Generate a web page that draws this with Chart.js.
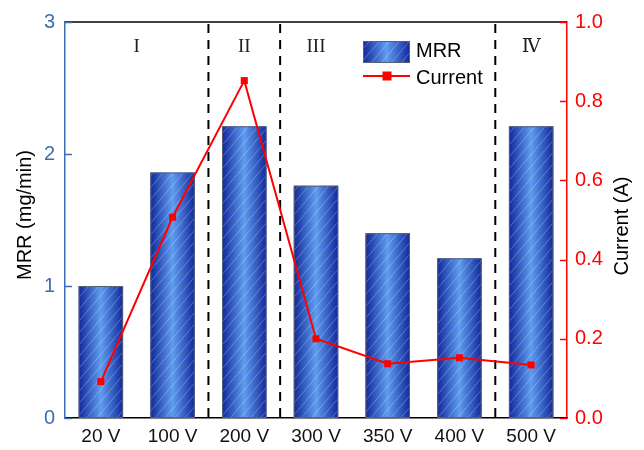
<!DOCTYPE html>
<html>
<head>
<meta charset="utf-8">
<script src="https://cdn.jsdelivr.net/npm/chart.js@4/dist/chart.umd.min.js"></script>
<style>
  html, body { margin: 0; padding: 0; background: #fff; }
  #wrap { width: 644px; height: 450px; }
</style>
</head>
<body>
<div id="wrap"><canvas id="chart" width="644" height="450"></canvas></div>
<script>
// values
var voltages = ["20 V", "100 V", "200 V", "300 V", "350 V", "400 V", "500 V"];
var mrr = [1.0, 1.86, 2.21, 1.76, 1.40, 1.21, 2.21];
var current = [0.092, 0.507, 0.852, 0.200, 0.137, 0.152, 0.134];
var regionLabels = ["I", "II", "III", "Ⅳ"];
var regionAt = [0.5, 2, 3, 6];      // category index the label sits over
var dividers = [1.5, 2.5, 5.5];     // dashed lines between categories
var leftTicks = [0, 1, 2, 3];
var rightTicks = [0, 0.2, 0.4, 0.6, 0.8, 1.0];

var blueAxis = "#3d6db5";
var redAxis = "#ff0000";

function fillBar(ctx, x0, y0, w, h) {
    var g = ctx.createLinearGradient(x0, 0, x0 + w, 0);
    g.addColorStop(0, "#10279a");
    g.addColorStop(0.5, "#5f9cf0");
    g.addColorStop(1, "#10279a");
    ctx.save();
    ctx.fillStyle = g;
    ctx.fillRect(x0, y0, w, h);
    ctx.beginPath();
    ctx.rect(x0, y0, w, h);
    ctx.clip();
    ctx.strokeStyle = "rgba(255,255,255,0.35)";
    ctx.lineWidth = 0.8;
    for (var k = -h; k < w + h; k += 10) {
        ctx.beginPath();
        ctx.moveTo(x0 + k, y0 + h);
        ctx.lineTo(x0 + k + h * 0.85, y0);
        ctx.stroke();
    }
    ctx.restore();
    ctx.save();
    ctx.strokeStyle = "#55607a";
    ctx.lineWidth = 1;
    ctx.strokeRect(x0 + 0.5, y0 + 0.5, w - 1, h - 1);
    ctx.restore();
}

var decor = {
    id: "decor",
    afterDatasetDraw: function (chart, args) {
        if (args.index !== 0) return;
        var ctx = chart.ctx;
        args.meta.data.forEach(function (bar) {
            var w = bar.width;
            fillBar(ctx, bar.x - w / 2, bar.y, w, bar.base - bar.y);
        });
    },
    beforeDatasetsDraw: function (chart) {
        var ctx = chart.ctx, a = chart.chartArea, x = chart.scales.x;
        // dashed region dividers
        ctx.save();
        ctx.strokeStyle = "#000";
        ctx.lineWidth = 2;
        ctx.setLineDash([9, 7]);
        dividers.forEach(function (d) {
            var px = (x.getPixelForValue(Math.floor(d)) + x.getPixelForValue(Math.ceil(d))) / 2;
            ctx.beginPath();
            ctx.moveTo(px, a.top + 2);
            ctx.lineTo(px, a.bottom);
            ctx.stroke();
        });
        ctx.restore();
        // region labels
        ctx.save();
        ctx.fillStyle = "#222";
        ctx.font = "19px 'Liberation Serif', 'DejaVu Serif'";
        ctx.textAlign = "center";
        ctx.textBaseline = "middle";
        regionLabels.forEach(function (t, i) {
            var r = regionAt[i];
            var px = (x.getPixelForValue(Math.floor(r)) + x.getPixelForValue(Math.ceil(r))) / 2;
            ctx.fillText(t, px, a.top + 25);
        });
        ctx.restore();
    },
    afterDraw: function (chart) {
        var ctx = chart.ctx, a = chart.chartArea;
        var yl = chart.scales.y, yr = chart.scales.y1;
        ctx.save();
        // top frame line
        ctx.strokeStyle = "#000";
        ctx.lineWidth = 1.5;
        ctx.beginPath();
        ctx.moveTo(a.left, a.top);
        ctx.lineTo(a.right, a.top);
        ctx.stroke();
        // inward ticks
        ctx.lineWidth = 1.5;
        ctx.strokeStyle = blueAxis;
        leftTicks.forEach(function (v) {
            var py = Math.round(yl.getPixelForValue(v)) + 0.5;
            ctx.beginPath();
            ctx.moveTo(a.left, py);
            ctx.lineTo(a.left + 7, py);
            ctx.stroke();
        });
        ctx.strokeStyle = redAxis;
        rightTicks.forEach(function (v) {
            var py = Math.round(yr.getPixelForValue(v)) + 0.5;
            ctx.beginPath();
            ctx.moveTo(a.right, py);
            ctx.lineTo(a.right - 7, py);
            ctx.stroke();
        });
        // axis titles
        ctx.fillStyle = "#000";
        ctx.font = "20px 'Liberation Sans'";
        ctx.textAlign = "center";
        ctx.textBaseline = "middle";
        ctx.save();
        ctx.translate(25, 215);
        ctx.rotate(-Math.PI / 2);
        ctx.fillText("MRR (mg/min)", 0, 0);
        ctx.restore();
        ctx.save();
        ctx.translate(622, 226);
        ctx.rotate(-Math.PI / 2);
        ctx.fillText("Current (A)", 0, 0);
        ctx.restore();
        // legend
        var lx = 363, ly = 41;
        fillBar(ctx, lx, ly, 47, 22);
        ctx.strokeStyle = redAxis;
        ctx.lineWidth = 2;
        ctx.beginPath();
        ctx.moveTo(lx, 76);
        ctx.lineTo(lx + 47, 76);
        ctx.stroke();
        ctx.fillStyle = redAxis;
        ctx.fillRect(lx + 24 - 4.5, 76 - 4.5, 9, 9);
        ctx.fillStyle = "#000";
        ctx.font = "20px 'Liberation Sans'";
        ctx.textAlign = "left";
        ctx.fillText("MRR", lx + 53, 51);
        ctx.fillText("Current", lx + 53, 78);
        ctx.restore();
    }
};

new Chart(document.getElementById("chart").getContext("2d"), {
    type: "bar",
    data: {
        labels: voltages,
        datasets: [
            {
                label: "MRR",
                data: mrr,
                yAxisID: "y",
                backgroundColor: "rgba(0,0,0,0)",
                borderWidth: 0,
                barPercentage: 0.62,
                categoryPercentage: 1,
                order: 2
            },
            {
                type: "line",
                label: "Current",
                data: current,
                yAxisID: "y1",
                borderColor: redAxis,
                backgroundColor: redAxis,
                borderWidth: 2,
                pointStyle: "rect",
                pointRadius: 5,
                pointBorderWidth: 0,
                tension: 0,
                order: 1
            }
        ]
    },
    options: {
        responsive: false,
        animation: false,
        layout: { padding: { top: 16, left: 0, right: 0, bottom: 0 } },
        plugins: {
            legend: { display: false },
            tooltip: { enabled: false }
        },
        scales: {
            x: {
                afterFit: function (s) { s.height = 32; },
                grid: { display: false, drawTicks: false },
                border: { color: "#000", width: 1.5 },
                ticks: { color: "#111", font: { family: "Liberation Sans", size: 19 }, padding: 7 }
            },
            y: {
                position: "left",
                min: 0,
                max: 3,
                afterFit: function (s) { s.width = 65; },
                afterBuildTicks: function (s) { s.ticks = leftTicks.map(function (v) { return { value: v }; }); },
                grid: { display: false, drawTicks: false },
                border: { color: blueAxis, width: 1.5 },
                ticks: { color: blueAxis, font: { family: "Liberation Sans", size: 20 }, padding: 10 }
            },
            y1: {
                position: "right",
                min: 0,
                max: 1,
                afterFit: function (s) { s.width = 77; },
                afterBuildTicks: function (s) { s.ticks = rightTicks.map(function (v) { return { value: v }; }); },
                grid: { display: false, drawTicks: false },
                border: { color: redAxis, width: 1.5 },
                ticks: {
                    color: redAxis,
                    font: { family: "Liberation Sans", size: 20 },
                    padding: 8,
                    callback: function (v) { return Number(v).toFixed(1); }
                }
            }
        }
    },
    plugins: [decor]
});
</script>
</body>
</html>
